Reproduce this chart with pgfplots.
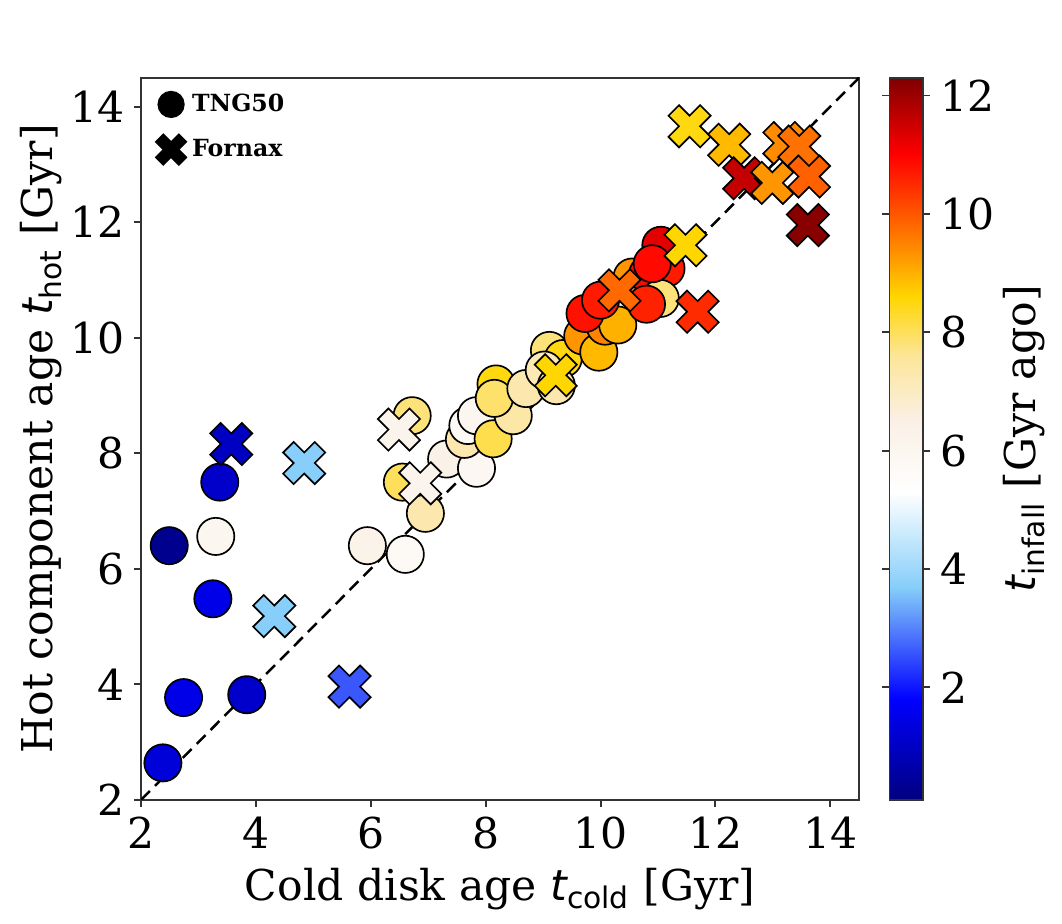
\documentclass[border=0pt]{standalone}
\usepackage{fontspec}
\setmainfont{DejaVu Serif}
\newfontfamily\dvsans{DejaVu Sans}
\usepackage{pgfplots}
\pgfplotsset{compat=1.18}

\newcommand{\tsub}[1]{{\dvsans\itshape t}\textsubscript{\dvsans #1}}
\newcommand{\bigfont}{\fontsize{15.3}{18}\selectfont}

% matplotlib-style filled "X" marker
\pgfdeclareplotmark{fatx}{%
  \pgfpathmoveto{\pgfqpoint{0.5\pgfplotmarksize}{-\pgfplotmarksize}}%
  \pgfpathlineto{\pgfqpoint{\pgfplotmarksize}{-0.5\pgfplotmarksize}}%
  \pgfpathlineto{\pgfqpoint{0.5\pgfplotmarksize}{0pt}}%
  \pgfpathlineto{\pgfqpoint{\pgfplotmarksize}{0.5\pgfplotmarksize}}%
  \pgfpathlineto{\pgfqpoint{0.5\pgfplotmarksize}{\pgfplotmarksize}}%
  \pgfpathlineto{\pgfqpoint{0pt}{0.5\pgfplotmarksize}}%
  \pgfpathlineto{\pgfqpoint{-0.5\pgfplotmarksize}{\pgfplotmarksize}}%
  \pgfpathlineto{\pgfqpoint{-\pgfplotmarksize}{0.5\pgfplotmarksize}}%
  \pgfpathlineto{\pgfqpoint{-0.5\pgfplotmarksize}{0pt}}%
  \pgfpathlineto{\pgfqpoint{-\pgfplotmarksize}{-0.5\pgfplotmarksize}}%
  \pgfpathlineto{\pgfqpoint{-0.5\pgfplotmarksize}{-\pgfplotmarksize}}%
  \pgfpathlineto{\pgfqpoint{0pt}{-0.5\pgfplotmarksize}}%
  \pgfpathclose
  \pgfusepathqfillstroke
}

\pgfplotsset{
  /pgf/number format/assume math mode=true,
  colormap={infall}{rgb(1pt)=(0,0,0.5); rgb(18pt)=(0,0,1); rgb(37pt)=(0.53,0.81,0.98);
    rgb(53pt)=(1,1,1); rgb(65pt)=(0.98,0.94,0.90); rgb(76pt)=(0.99,0.90,0.60);
    rgb(86pt)=(1,0.84,0); rgb(94pt)=(1,0.55,0); rgb(102pt)=(1,0.27,0);
    rgb(110pt)=(1,0,0); rgb(123pt)=(0.5,0,0)},
}

% TNG50 galaxies: cold disk age, hot component age, infall time
\pgfplotstableread{
x y c
3.37 7.50 1.1
3.30 6.56 6.0
2.49 6.40 0.3
3.25 5.48 1.5
2.74 3.77 1.5
3.84 3.82 1.1
2.38 2.64 1.3
6.72 8.65 7.8
6.55 7.50 8.0
6.95 6.96 7.3
5.94 6.40 6.3
6.60 6.25 5.8
7.32 7.90 6.4
7.84 7.74 5.9
7.63 8.24 7.3
7.69 8.48 5.8
7.84 8.65 6.0
8.13 8.25 8.1
8.48 8.65 7.4
8.18 9.20 8.5
8.15 8.95 7.9
8.70 9.12 7.3
9.11 9.78 7.8
9.35 9.64 8.5
9.02 9.44 7.2
9.23 9.17 7.3
9.69 10.03 9.3
9.97 9.75 8.9
10.08 10.20 9.5
10.30 10.22 9.0
9.73 10.42 10.8
10.00 10.65 10.7
10.55 11.05 9.3
10.82 11.10 10.9
11.14 11.20 10.7
11.04 10.68 7.8
10.80 10.58 10.6
11.05 11.60 11.3
10.90 11.28 10.9
}\tngdata

% Fornax galaxies
\pgfplotstableread{
x y c
3.57 8.16 1.0
4.84 7.83 3.7
4.32 5.18 3.7
5.63 3.96 2.6
6.49 8.41 6.2
6.86 7.48 6.2
9.22 9.35 8.6
10.33 10.82 9.8
11.48 11.60 8.6
11.69 10.45 10.5
11.55 13.66 8.5
12.24 13.34 8.9
12.50 12.76 11.6
12.99 12.68 9.3
13.20 13.37 9.4
13.46 13.31 9.7
13.63 12.79 9.9
13.61 11.95 12.2
}\fornaxdata

\begin{document}
\begin{tikzpicture}
\begin{axis}[
    name=main,
    scale only axis,
    width=258.5pt, height=260pt,
    xmin=2, xmax=14.5, ymin=2, ymax=14.5,
    xtick={2,4,...,14}, ytick={2,4,...,14},
    tick align=outside, xtick pos=left, ytick pos=left,
    major tick length=2.5pt,
    axis line style={black!80, line width=0.7pt},
    tick style={black!80, line width=0.7pt},
    tick label style={font=\bigfont},
    label style={font=\bigfont},
    xlabel={Cold disk age \tsub{cold} [Gyr]},
    ylabel={Hot component age \tsub{hot} [Gyr]},
    ylabel shift=-4pt,
    colormap name=infall,
    point meta min=0.1, point meta max=12.3,
    colorbar,
    colorbar style={
        at={(parent axis.north east)}, anchor=north west, xshift=2.4pt,
        width=12.2pt,
        ytick={2,4,...,12},
        tick align=outside,
        major tick length=2.5pt,
        axis line style={black!80, line width=0.6pt},
        tick style={black!80, line width=0.7pt},
        tick label style={font=\bigfont},
        ylabel={\tsub{infall} [Gyr ago]},
        ylabel style={font=\bigfont},
        ylabel shift=-3.6pt,
    },
    legend style={at={(0,1)}, anchor=north west, xshift=2pt, yshift=-1.5pt,
        draw=none, fill=none, font=\bfseries\fontsize{8.5}{10}\selectfont,
        row sep=4.5pt},
    legend cell align=left,
    legend image code/.code={\draw[#1] plot coordinates {(0.25cm,0cm)};},
]
\addlegendimage{only marks, mark=*, mark size=4.7pt, black}
\addlegendentry{TNG50}
\addlegendimage{only marks, mark=fatx, mark size=5.6pt, black}
\addlegendentry{Fornax}

\addplot[forget plot, black, line width=0.9pt, dash pattern=on 4.5pt off 2.6pt]
    coordinates {(2,2) (14.5,14.5)};

\addplot[forget plot, scatter, only marks, mark=*, mark size=6.7pt,
    point meta=explicit,
    scatter/use mapped color={draw=black, fill=mapped color},
    mark options={line width=0.6pt}]
    table[x=x, y=y, meta=c] {\tngdata};

\addplot[forget plot, scatter, only marks, mark=fatx, mark size=7.6pt,
    point meta=explicit,
    scatter/use mapped color={draw=black, fill=mapped color},
    mark options={line width=0.6pt}]
    table[x=x, y=y, meta=c] {\fornaxdata};
\end{axis}
\path (main.south west) +(-50.8pt,-44.6pt) +(331.6pt,288pt);
\end{tikzpicture}
\end{document}
